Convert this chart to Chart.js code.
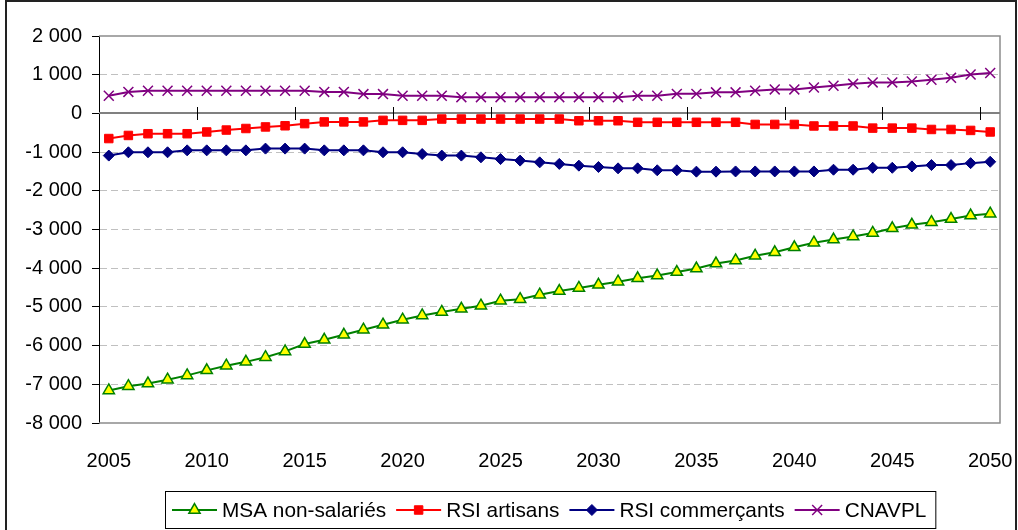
<!DOCTYPE html>
<html>
<head>
<meta charset="utf-8">
<script src="https://cdn.jsdelivr.net/npm/chart.js@4.4.1/dist/chart.umd.min.js"></script>
<style>
html,body{margin:0;padding:0;background:#fff;}
#wrap{width:1018px;height:530px;position:relative;}
</style>
</head>
<body>
<div id="wrap"><canvas id="c"></canvas></div>
<script>
const years = ['2005','2006','2007','2008','2009','2010','2011','2012','2013','2014',
  '2015','2016','2017','2018','2019','2020','2021','2022','2023','2024',
  '2025','2026','2027','2028','2029','2030','2031','2032','2033','2034',
  '2035','2036','2037','2038','2039','2040','2041','2042','2043','2044',
  '2045','2046','2047','2048','2049','2050'];

const msaNonSalaries = [-7160,-7050,-6980,-6880,-6770,-6640,-6520,-6420,-6300,-6150,
  -5960,-5850,-5720,-5590,-5460,-5330,-5220,-5130,-5050,-4970,
  -4840,-4800,-4685,-4590,-4510,-4430,-4350,-4260,-4190,-4100,
  -4010,-3880,-3800,-3680,-3590,-3460,-3340,-3260,-3180,-3090,
  -2970,-2880,-2810,-2730,-2640,-2590];

const rsiArtisans = [-650,-570,-525,-525,-525,-480,-430,-390,-350,-320,
  -265,-220,-220,-220,-180,-180,-180,-145,-145,-145,
  -145,-145,-145,-145,-190,-190,-190,-230,-230,-230,
  -230,-230,-230,-285,-285,-285,-325,-325,-325,-380,
  -380,-380,-415,-415,-440,-480];

const rsiCommercants = [-1090,-1005,-1005,-1005,-955,-955,-955,-955,-910,-910,
  -910,-955,-955,-955,-1005,-1005,-1050,-1090,-1090,-1135,
  -1180,-1220,-1265,-1305,-1350,-1385,-1420,-1420,-1470,-1470,
  -1505,-1505,-1500,-1500,-1500,-1500,-1500,-1455,-1455,-1405,
  -1405,-1370,-1335,-1335,-1285,-1250];

const cnavpl = [455,555,585,585,585,585,585,585,585,585,
  585,555,555,500,500,455,455,455,420,420,
  420,420,420,420,420,420,420,455,455,505,
  505,545,545,585,620,620,670,715,765,800,
  800,825,870,920,1005,1045];

const xTickLabels = ['2005','2010','2015','2020','2025','2030','2035','2040','2045','2050'];
const yMin = -8000, yMax = 2000, yStep = 1000;

const FONT = "'Liberation Sans', Arial, sans-serif";

function fmtNum(v){
  const s = Math.abs(v).toString().replace(/\B(?=(\d{3})+(?!\d))/g, ' ');
  return (v < 0 ? '-' : '') + s;
}

function drawMarker(ctx, style, x, y, r, fill, stroke, bw){
  ctx.save();
  ctx.beginPath();
  ctx.lineWidth = bw;
  ctx.strokeStyle = stroke;
  ctx.fillStyle = fill;
  if (style === 'triangle'){
    let rad = 0;
    ctx.moveTo(x + Math.sin(rad)*r, y - Math.cos(rad)*r);
    rad += 2*Math.PI/3;
    ctx.lineTo(x + Math.sin(rad)*r, y - Math.cos(rad)*r);
    rad += 2*Math.PI/3;
    ctx.lineTo(x + Math.sin(rad)*r, y - Math.cos(rad)*r);
    ctx.closePath(); ctx.fill(); ctx.stroke();
  } else if (style === 'rect'){
    const s = Math.SQRT1_2 * r;
    ctx.rect(x - s, y - s, 2*s, 2*s); ctx.fill(); ctx.stroke();
  } else if (style === 'rectRot'){
    ctx.moveTo(x - r, y); ctx.lineTo(x, y - r); ctx.lineTo(x + r, y); ctx.lineTo(x, y + r);
    ctx.closePath(); ctx.fill(); ctx.stroke();
  } else if (style === 'crossRot'){
    const o = Math.SQRT1_2 * r;
    ctx.moveTo(x - o, y - o); ctx.lineTo(x + o, y + o);
    ctx.moveTo(x - o, y + o); ctx.lineTo(x + o, y - o);
    ctx.stroke();
  }
  ctx.restore();
}

const LEG = {left:165, top:491, bottom:528, cy:510, pad:7, line:45, gap:5, itemGap:10, endPad:9, font:'20.8px ' + FONT};

const decor = {
  id: 'decor',
  beforeDraw(chart){
    const ctx = chart.ctx;
    ctx.save();
    ctx.fillStyle = '#fff';
    ctx.fillRect(0, 0, chart.width, chart.height);
    ctx.restore();
  },
  beforeDatasetsDraw(chart){
    const {ctx, chartArea:a, scales} = chart;
    const xs = scales.x, ys = scales.y;
    const y0 = Math.round(ys.getPixelForValue(0));
    ctx.save();
    ctx.strokeStyle = '#8c8c8c';
    ctx.lineWidth = 1.5;
    ctx.beginPath();
    ctx.moveTo(a.left, a.top); ctx.lineTo(a.right, a.top); ctx.lineTo(a.right, a.bottom); ctx.lineTo(a.left, a.bottom);
    ctx.stroke();
    ctx.strokeStyle = '#808080';
    ctx.lineWidth = 2;
    ctx.beginPath();
    ctx.moveTo(a.left, y0); ctx.lineTo(a.right, y0);
    ctx.stroke();
    ctx.strokeStyle = '#000';
    ctx.lineWidth = 1;
    ctx.beginPath();
    for (let i = 5; i < years.length; i += 5){
      const px = Math.round((xs.getPixelForValue(i-1) + xs.getPixelForValue(i)) / 2) + 0.5;
      ctx.moveTo(px, y0 - 6); ctx.lineTo(px, y0 + 7);
    }
    ctx.stroke();
    ctx.restore();
  },
  afterDraw(chart){
    const ctx = chart.ctx;
    ctx.save();
    ctx.strokeStyle = '#222';
    ctx.lineWidth = 2;
    ctx.strokeRect(6, 1, 1010, 600);
    ctx.font = LEG.font;
    ctx.textBaseline = 'middle';
    ctx.textAlign = 'left';
    let x = LEG.left + LEG.pad;
    chart.data.datasets.forEach(ds => {
      ctx.strokeStyle = ds.borderColor;
      ctx.lineWidth = ds.borderWidth;
      ctx.beginPath();
      ctx.moveTo(x, LEG.cy); ctx.lineTo(x + LEG.line, LEG.cy);
      ctx.stroke();
      drawMarker(ctx, ds.pointStyle, x + LEG.line/2, LEG.cy, ds.pointRadius, ds.pointBackgroundColor, ds.pointBorderColor, ds.pointBorderWidth);
      ctx.fillStyle = '#000';
      ctx.fillText(ds.label, x + LEG.line + LEG.gap, LEG.cy + 1);
      x += LEG.line + LEG.gap + ctx.measureText(ds.label).width + LEG.itemGap;
    });
    const right = x - LEG.itemGap + LEG.endPad;
    ctx.strokeStyle = '#000';
    ctx.lineWidth = 1;
    ctx.strokeRect(LEG.left + 0.5, LEG.top + 0.5, right - LEG.left, LEG.bottom - LEG.top);
    ctx.restore();
  }
};

new Chart(document.getElementById('c'), {
  type: 'line',
  data: {
    labels: years,
    datasets: [
      {label:'MSA non-salariés', data: msaNonSalaries, borderColor:'#008000', backgroundColor:'#ffff00',
       borderWidth:2, pointStyle:'triangle', pointRadius:6.5, pointBackgroundColor:'#ffff00',
       pointBorderColor:'#008000', pointBorderWidth:1.5, order:4},
      {label:'RSI artisans', data: rsiArtisans, borderColor:'#ff0000', backgroundColor:'#ff0000',
       borderWidth:2, pointStyle:'rect', pointRadius:6, pointBackgroundColor:'#ff0000',
       pointBorderColor:'#ff0000', pointBorderWidth:1, order:3},
      {label:'RSI commerçants', data: rsiCommercants, borderColor:'#000080', backgroundColor:'#000080',
       borderWidth:2, pointStyle:'rectRot', pointRadius:5.5, pointBackgroundColor:'#000080',
       pointBorderColor:'#000080', pointBorderWidth:1, order:2},
      {label:'CNAVPL', data: cnavpl, borderColor:'#800080', backgroundColor:'#800080',
       borderWidth:2, pointStyle:'crossRot', pointRadius:7, pointBackgroundColor:'#800080',
       pointBorderColor:'#800080', pointBorderWidth:1.5, order:1}
    ]
  },
  options: {
    responsive: true,
    maintainAspectRatio: false,
    animation: false,
    events: [],
    layout: { padding: { left: 0, right: 18, top: 36, bottom: 0 } },
    plugins: { legend: { display: false }, tooltip: { enabled: false } },
    elements: { line: { tension: 0 } },
    scales: {
      x: {
        type: 'category',
        offset: true,
        grid: { display: false },
        border: { display: false },
        ticks: {
          autoSkip: false, maxRotation: 0, minRotation: 0, padding: 18,
          color: '#000', font: { family: FONT, size: 20 },
          callback: function(val, idx){ const l = years[idx]; return xTickLabels.includes(l) ? l : ''; }
        },
        afterFit(scale){ scale.height = 107; scale.paddingLeft = 0; scale.paddingRight = 0; }
      },
      y: {
        min: yMin, max: yMax,
        grid: {
          color: ctx => (ctx.tick && (ctx.tick.value === 0 || ctx.tick.value === yMax || ctx.tick.value === yMin)) ? 'rgba(0,0,0,0)' : '#c0c0c0',
          lineWidth: 1,
          tickColor: '#000',
          tickLength: 7,
          tickWidth: 1,
          tickBorderDash: []
        },
        border: { display: true, color: '#000', width: 1, dash: [7,4] },
        ticks: {
          stepSize: yStep, padding: 10, color: '#000',
          font: { family: FONT, size: 20 },
          callback: v => fmtNum(v)
        },
        afterFit(scale){ scale.width = 99; scale.paddingTop = 0; scale.paddingBottom = 0; }
      }
    }
  },
  plugins: [decor]
});
</script>
</body>
</html>
